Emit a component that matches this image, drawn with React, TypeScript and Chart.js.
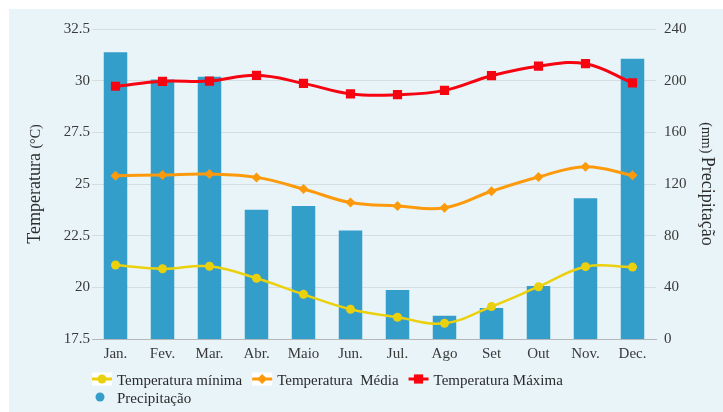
import React, { useEffect, useRef } from "react";
import { Chart, registerables } from "chart.js";

Chart.register(...registerables);

// Monthly climate normals
const months = ["Jan.", "Fev.", "Mar.", "Abr.", "Maio", "Jun.", "Jul.", "Ago", "Set", "Out", "Nov.", "Dec."];
const tempMin = [21.08, 20.9, 21.02, 20.44, 19.66, 18.94, 18.55, 18.26, 19.07, 20.03, 21.0, 20.98];
const tempMed = [25.4, 25.44, 25.48, 25.32, 24.76, 24.1, 23.94, 23.85, 24.65, 25.34, 25.84, 25.42];
const tempMax = [29.73, 29.97, 29.98, 30.26, 29.87, 29.36, 29.32, 29.53, 30.24, 30.7, 30.82, 29.89];
const precipitation = [222, 201, 203, 100, 103, 84, 38, 18, 24, 41, 109, 217];

// Axis ranges
const tempRange = { min: 17.5, max: 32.5, step: 2.5 };
const precipRange = { min: 0, max: 240, step: 40 };

const seriesLabels = ["Temperatura mínima", "Temperatura  Média", "Temperatura Máxima", "Precipitação"];

const YELLOW = "#ebd10d";
const ORANGE = "#fd9a0b";
const RED = "#f6040f";
const BLUE = "#349ecb";
const PANEL_BG = "#e9f4f9";
const TEXT = "#2b2b2b";
const TICK_TEXT = "#3a3a3a";
const FONT = "'Liberation Serif', 'Times New Roman', serif";

type Part = { text: string; size: number };

function drawRotatedParts(ctx: CanvasRenderingContext2D, parts: Part[], x: number, y: number, angle: number) {
  ctx.save();
  ctx.translate(x, y);
  ctx.rotate(angle);
  let total = 0;
  const widths = parts.map((p) => {
    ctx.font = `${p.size}px ${FONT}`;
    const w = ctx.measureText(p.text).width;
    total += w;
    return w;
  });
  let px = -total / 2;
  parts.forEach((p, i) => {
    ctx.font = `${p.size}px ${FONT}`;
    ctx.fillText(p.text, px, 0);
    px += widths[i];
  });
  ctx.restore();
}

// Titles of the two value axes, each mixing a large word and a small unit
const axisTitles = {
  id: "axisTitles",
  afterDraw(chart: any) {
    const { ctx, chartArea } = chart;
    const cy = (chartArea.top + chartArea.bottom) / 2;
    ctx.save();
    ctx.fillStyle = TEXT;
    ctx.textBaseline = "alphabetic";
    drawRotatedParts(
      ctx,
      [
        { text: "Temperatura ", size: 18 },
        { text: "(°C)", size: 14 },
      ],
      chartArea.left - 52,
      cy,
      -Math.PI / 2
    );
    drawRotatedParts(
      ctx,
      [
        { text: "(mm) ", size: 14 },
        { text: "Precipitação", size: 18 },
      ],
      chartArea.right + 46,
      cy,
      Math.PI / 2
    );
    ctx.restore();
  },
};

function drawSymbol(ctx: CanvasRenderingContext2D, style: string, cx: number, cy: number, r: number, color: string) {
  ctx.fillStyle = color;
  ctx.beginPath();
  if (style === "rect") {
    const s = r * Math.SQRT1_2;
    ctx.rect(cx - s, cy - s, 2 * s, 2 * s);
  } else if (style === "rectRot") {
    ctx.moveTo(cx, cy - r);
    ctx.lineTo(cx + r, cy);
    ctx.lineTo(cx, cy + r);
    ctx.lineTo(cx - r, cy);
    ctx.closePath();
  } else {
    ctx.arc(cx, cy, r, 0, Math.PI * 2);
  }
  ctx.fill();
}

// Legend laid out under the plot, left-aligned with the plot area and wrapping
const bottomLegend = {
  id: "bottomLegend",
  afterDraw(chart: any) {
    const { ctx, chartArea } = chart;
    const markW = 20;
    const gapText = 5;
    const gapItem = 10;
    const rowH = 18;
    let x = chartArea.left;
    let y = chartArea.bottom + 40;
    ctx.save();
    ctx.font = `15px ${FONT}`;
    ctx.textBaseline = "alphabetic";
    chart.data.datasets.forEach((ds: any) => {
      const tw = ctx.measureText(ds.label).width;
      const w = markW + gapText + tw;
      if (x > chartArea.left && x + w > chartArea.right) {
        x = chartArea.left;
        y += rowH;
      }
      const cx = x + markW / 2;
      if (ds.type === "line") {
        if (ds.legendBox) {
          ctx.fillStyle = "#ffffff";
          ctx.fillRect(x, y - 6.5, markW, 13);
        }
        ctx.strokeStyle = ds.borderColor;
        ctx.lineWidth = 3;
        ctx.beginPath();
        ctx.moveTo(x, y);
        ctx.lineTo(x + markW, y);
        ctx.stroke();
        drawSymbol(ctx, ds.pointStyle, cx, y, ds.pointRadius, ds.borderColor);
      } else {
        drawSymbol(ctx, "circle", cx - 2, y, 4.5, ds.backgroundColor);
      }
      ctx.fillStyle = TEXT;
      ctx.fillText(ds.label, x + markW + gapText, y + 5.5);
      x += w + gapItem;
    });
    ctx.restore();
  },
};

export default function App() {
  const canvasRef = useRef<HTMLCanvasElement | null>(null);

  useEffect(() => {
    if (!canvasRef.current) return;
    const tickFont = { family: FONT, size: 15 };
    const chart = new Chart(canvasRef.current, {
      type: "bar",
      data: {
        labels: months,
        datasets: [
          {
            type: "line",
            label: seriesLabels[0],
            data: tempMin,
            yAxisID: "y",
            borderColor: YELLOW,
            backgroundColor: YELLOW,
            borderWidth: 2.5,
            pointStyle: "circle",
            pointRadius: 4.5,
            pointBorderWidth: 0,
            tension: 0.4,
            order: 1,
            legendBox: true,
          } as any,
          {
            type: "line",
            label: seriesLabels[1],
            data: tempMed,
            yAxisID: "y",
            borderColor: ORANGE,
            backgroundColor: ORANGE,
            borderWidth: 3,
            pointStyle: "rectRot",
            pointRadius: 5,
            pointBorderWidth: 0,
            tension: 0.4,
            order: 1,
            legendBox: true,
          } as any,
          {
            type: "line",
            label: seriesLabels[2],
            data: tempMax,
            yAxisID: "y",
            borderColor: RED,
            backgroundColor: RED,
            borderWidth: 3,
            pointStyle: "rect",
            pointRadius: 6.5,
            pointBorderWidth: 0,
            tension: 0.4,
            order: 1,
            legendBox: false,
          } as any,
          {
            type: "bar",
            label: seriesLabels[3],
            data: precipitation,
            yAxisID: "y1",
            backgroundColor: BLUE,
            barPercentage: 0.5,
            categoryPercentage: 1,
            order: 5,
          } as any,
        ],
      },
      options: {
        responsive: true,
        maintainAspectRatio: false,
        animation: false,
        layout: { padding: { top: 20, left: 0, right: 0, bottom: 0 } },
        plugins: {
          legend: { display: false },
          tooltip: { enabled: false },
          title: { display: false },
        },
        scales: {
          x: {
            offset: true,
            grid: { display: false, drawTicks: false },
            border: { display: true, color: "#b4b8ba", width: 1 },
            ticks: { font: tickFont, color: TICK_TEXT, padding: 6, maxRotation: 0 },
            afterFit: (s: any) => {
              s.height = 73;
            },
          },
          y: {
            position: "left",
            min: tempRange.min,
            max: tempRange.max,
            ticks: { stepSize: tempRange.step, font: tickFont, color: TICK_TEXT, padding: 2 },
            grid: { color: "rgba(0,0,0,0.09)", drawTicks: false },
            border: { display: false },
            afterFit: (s: any) => {
              s.width = 83;
            },
          },
          y1: {
            position: "right",
            min: precipRange.min,
            max: precipRange.max,
            ticks: { stepSize: precipRange.step, font: tickFont, color: TICK_TEXT, padding: 8 },
            grid: { display: false, drawTicks: false },
            border: { display: false },
            afterFit: (s: any) => {
              s.width = 67;
            },
          },
        },
      },
      plugins: [axisTitles, bottomLegend],
    });
    return () => chart.destroy();
  }, []);

  return (
    <div
      style={{
        position: "fixed",
        left: 9,
        top: 9,
        width: 714,
        height: 403,
        background: PANEL_BG,
      }}
    >
      <canvas ref={canvasRef} />
    </div>
  );
}
